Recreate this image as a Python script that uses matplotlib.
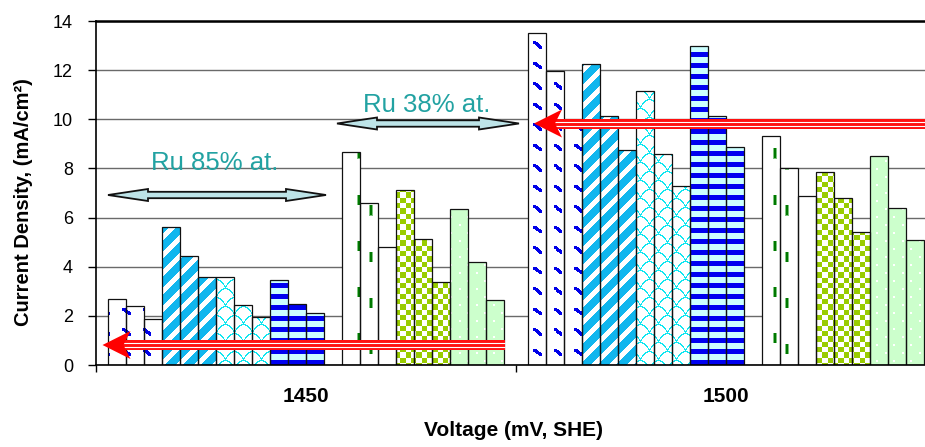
import numpy as np
import matplotlib
matplotlib.use("Agg")
import matplotlib.pyplot as plt
from matplotlib.colors import to_rgb
from matplotlib.path import Path
from matplotlib.patches import Polygon

plt.rcParams['font.family'] = ['Liberation Sans', 'DejaVu Sans']

# ---------------- data ----------------
voltages = ['1450', '1500']
# Ru 85% at. series (4 patterns x 3 bars)
ru85_s1 = [2.70, 13.50]
ru85_s2 = [2.40, 11.95]
ru85_s3 = [1.87, 9.80]
ru85_s4 = [5.63, 12.26]
ru85_s5 = [4.45, 10.15]
ru85_s6 = [3.57, 8.74]
ru85_s7 = [3.57, 11.14]
ru85_s8 = [2.45, 8.60]
ru85_s9 = [1.94, 7.29]
ru85_s10 = [3.46, 13.00]
ru85_s11 = [2.49, 10.15]
ru85_s12 = [2.10, 8.88]
# Ru 38% at. series (3 patterns x 3 bars)
ru38_s1 = [8.68, 9.33]
ru38_s2 = [6.61, 8.02]
ru38_s3 = [4.80, 6.89]
ru38_s4 = [7.12, 7.87]
ru38_s5 = [5.14, 6.80]
ru38_s6 = [3.38, 5.43]
ru38_s7 = [6.35, 8.51]
ru38_s8 = [4.20, 6.40]
ru38_s9 = [2.65, 5.10]
yticks = [0, 2, 4, 6, 8, 10, 12, 14]

ru85 = [ru85_s1, ru85_s2, ru85_s3, ru85_s4, ru85_s5, ru85_s6,
        ru85_s7, ru85_s8, ru85_s9, ru85_s10, ru85_s11, ru85_s12]
ru38 = [ru38_s1, ru38_s2, ru38_s3, ru38_s4, ru38_s5, ru38_s6,
        ru38_s7, ru38_s8, ru38_s9]

# ---------------- figure ----------------
FW, FH, DPI = 925, 447, 100
AX_L, AX_T, AX_W, AX_H = 96, 21, 840, 344
fig = plt.figure(figsize=(FW / DPI, FH / DPI), dpi=DPI)
ax = fig.add_axes([AX_L / FW, (FH - AX_T - AX_H) / FH, AX_W / FW, AX_H / FH])
XL = (-0.5, 1.5)
YL = (0, 14)
ax.set_xlim(*XL)
ax.set_ylim(*YL)
pxx = AX_W / (XL[1] - XL[0])   # pixels per x unit
pxy = AX_H / (YL[1] - YL[0])   # pixels per y unit

# ---------------- fill textures (pixel patterns) ----------------
H, W = AX_H, AX_W
X, Y = np.meshgrid(AX_L + np.arange(W), AX_T + np.arange(H))


def two_tone(mask, fg, bg):
    return np.where(mask[..., None], np.array(to_rgb(fg)), np.array(to_rgb(bg)))


# blue slanted marks on white
u = (X - 532) % 20.5
v = (Y - 41) % 20.5
m_blue = ((u < 8.5) & (v < 7.5) & (u > 1.5) & (np.abs(v - 0.8 * u) < 2.3)) | \
         ((u < 3) & (v < 3))
tex_blue = two_tone(m_blue, '#0000E8', '#FFFFFF')
# light blue with white diagonal stripes
tex_diag = two_tone(((X + Y) % 18) < 7, '#FFFFFF', '#10B6EE')
# cyan scallops on white
band = Y // 9
vv = (Y % 9).astype(float)
u2 = (X + (band % 2) * 9) % 18
vc = 8 * ((u2 - 9) / 9.0) ** 2
slope = np.abs(16 * (u2 - 9) / 81.0)
m_wave = np.abs(vv - vc) <= 0.65 * np.sqrt(1 + slope ** 2)
tex_wave = two_tone(m_wave, '#10E6F0', '#FFFFFF')
# dark blue horizontal stripes on pale cyan
tex_stripe = two_tone(((Y - 52) % 11) < 4.5, '#0000F0', '#CCFFFF')
# green vertical dashes on white
ca = (X - 357) % 46.1
cb = (X - 369) % 46.1
core = ((ca >= 0.5) & (ca < 2.5) & (((Y - 148) % 46.1) < 10)) | \
       ((cb >= 0.5) & (cb < 2.5) & (((Y - 205) % 46.1) < 10))
halo = (((ca < 3.5) | (ca > 45.6)) & (((Y - 148) % 46.1) < 10.5)) | \
       (((cb < 3.5) | (cb > 45.6)) & (((Y - 205) % 46.1) < 10.5))
tex_dash = two_tone(halo, '#7CC47C', '#FFFFFF')
tex_dash[core] = to_rgb('#007800')
# yellow-green checker
chk = ((np.floor(X / 5.33) + np.floor(Y / 5.33)) % 2) == 0
tex_chk = two_tone(chk, '#99CC00', '#FFFFFF')
# pale green with white dots
ud = X % 17
vd = Y % 16
dots = ((ud < 2) & (vd < 2)) | ((ud >= 8) & (ud < 10) & (vd >= 8) & (vd < 10))
tex_green = two_tone(dots, '#FFFFFF', '#CCFFCC')

textures = [tex_blue, tex_diag, tex_wave, tex_stripe, tex_dash, tex_chk, tex_green]

# ---------------- bars ----------------
n_slots = 22
slot_w = 0.943 / n_slots
cat_x = np.arange(len(voltages))
series = ru85 + ru38
slots = list(range(12)) + list(range(13, 22))

for k, (vals, s) in enumerate(zip(series, slots)):
    xs = cat_x + (s - (n_slots - 1) / 2) * slot_w
    bars = ax.bar(xs, vals, width=slot_w, facecolor='none', edgecolor='#111111',
                  linewidth=0.9, zorder=3)
    paths = [p.get_path().transformed(p.get_patch_transform()) for p in bars]
    clip = Path.make_compound_path(*paths)
    im = ax.imshow(textures[k // 3], extent=(XL[0], XL[1], YL[0], YL[1]),
                   aspect='auto', interpolation='nearest', origin='upper', zorder=2)
    im.set_clip_path(clip, ax.transData)

ax.set_xlim(*XL)
ax.set_ylim(*YL)

# ---------------- axes styling ----------------
ax.set_axisbelow(True)
ax.yaxis.grid(True, color='#6A6A6A', linewidth=1.0)
ax.set_yticks(yticks)
ax.tick_params(axis='y', direction='out', length=5.5, width=1, pad=11,
               labelsize=13, colors='black')
ax.set_xticks(cat_x)
ax.set_xticklabels(voltages, fontsize=15, fontweight='bold')
ax.set_xticks([-0.5, 0.5, 1.5], minor=True)
ax.tick_params(axis='x', which='major', length=0, pad=16)
ax.tick_params(axis='x', which='minor', direction='out', length=5, width=1)
ax.spines['right'].set_visible(False)
ax.spines['top'].set_linewidth(1.8)
ax.spines['left'].set_linewidth(1.2)
ax.spines['bottom'].set_linewidth(1.2)
for sp in ax.spines.values():
    sp.set_color('black')
    sp.set_zorder(4)

ax.set_xlabel('Voltage (mV, SHE)', fontsize=15, fontweight='bold', va='center')
ax.xaxis.set_label_coords((514 - AX_L) / AX_W, (AX_T + AX_H - 430) / AX_H)
ax.set_ylabel('Current Density, (mA/cm²)', fontsize=14.5, fontweight='bold', va='center')
ax.yaxis.set_label_coords((24 - AX_L) / AX_W, (AX_T + AX_H - 202) / AX_H)


# ---------------- annotations ----------------
def px2x(px):
    return XL[0] + (px - AX_L) / pxx


def px2y(py):
    return YL[0] + (AX_T + AX_H - py) / pxy


def double_arrow(x0px, x1px, ypx, hl=40, hh=6.0, sh=3.2):
    x0, x1 = px2x(x0px), px2x(x1px)
    y = px2y(ypx)
    dx, dyh, dys = hl / pxx, hh / pxy, sh / pxy
    pts = [(x0, y), (x0 + dx, y + dyh), (x0 + dx, y + dys), (x1 - dx, y + dys),
           (x1 - dx, y + dyh), (x1, y), (x1 - dx, y - dyh), (x1 - dx, y - dys),
           (x0 + dx, y - dys), (x0 + dx, y - dyh)]
    ax.add_patch(Polygon(pts, closed=True, facecolor='#BDE4E8', edgecolor='#111111',
                         linewidth=1.3, zorder=6, joinstyle='miter'))


def red_arrow(tip_px, end_px, ypx):
    xt, xe = px2x(tip_px), px2x(end_px)
    y = px2y(ypx)
    ax.plot([px2x(tip_px + 18), xe], [y, y], color='#FF1010', linewidth=7.2,
            solid_capstyle='butt', zorder=7, clip_on=False)
    for off in (-2.0, 2.0):
        ax.plot([px2x(tip_px + 18), xe], [y + off / pxy] * 2, color='white',
                linewidth=0.8, solid_capstyle='butt', zorder=7.5, clip_on=False)
    pts = [(xt, y), (px2x(tip_px + 28), y + 14 / pxy), (px2x(tip_px + 21), y),
           (px2x(tip_px + 28), y - 14 / pxy)]
    ax.add_patch(Polygon(pts, closed=True, facecolor='#FF0000', edgecolor='none',
                         zorder=8))


double_arrow(108, 326, 195)
double_arrow(337, 519, 123.5)
ax.text(px2x(215), px2y(170), 'Ru 85% at.', fontsize=18.5, color='#22A2A2',
        ha='center', va='baseline', zorder=6)
ax.text(px2x(427), px2y(111.5), 'Ru 38% at.', fontsize=18.5, color='#22A2A2',
        ha='center', va='baseline', zorder=6)

red_arrow(102.5, 505, 345)
red_arrow(534, 940, 123.5)

fig.savefig('out.png', dpi=DPI)
